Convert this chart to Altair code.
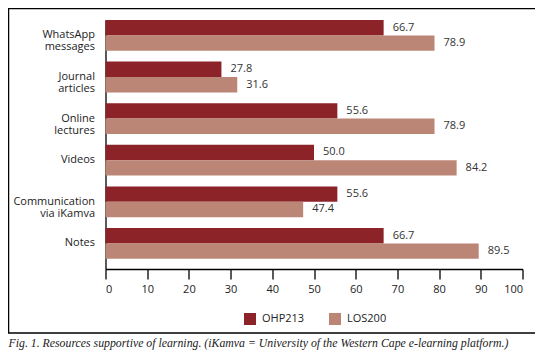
import altair as alt
import pandas as pd

categories = ["WhatsApp\nmessages", "Journal\narticles", "Online\nlectures", "Videos",
              "Communication\nvia iKamva", "Notes"]
series = ["OHP213", "LOS200"]
ohp213 = [66.7, 27.8, 55.6, 50.0, 55.6, 66.7]
los200 = [78.9, 31.6, 78.9, 84.2, 47.4, 89.5]
x_ticks = [0, 10, 20, 30, 40, 50, 60, 70, 80, 90, 100]
caption = ("Fig. 1. Resources supportive of learning. "
           "(iKamva = University of the Western Cape e-learning platform.)")
colors = ["#8b2329", "#bc8677"]

rows = []
for c, a, b in zip(categories, ohp213, los200):
    rows.append({"cat": c, "series": series[0], "value": a})
    rows.append({"cat": c, "series": series[1], "value": b})
df = pd.DataFrame(rows)

W, H = 417, 249
FONT = "Open Sans"

y_enc = alt.Y("cat:N", sort=categories, title=None,
              scale=alt.Scale(paddingInner=0.26, paddingOuter=0.123, align=0),
              axis=alt.Axis(ticks=False, domain=True, domainColor="#000", domainWidth=1.3,
                            labelPadding=11, labelFont=FONT, labelFontSize=11,
                            labelColor="#222", labelLineHeight=12,
                            labelExpr="split(datum.label, '\\n')"))
yoff = alt.YOffset("series:N", sort=series)
x_enc = alt.X("value:Q", title=None,
              scale=alt.Scale(domain=[0, 100], nice=False),
              axis=alt.Axis(values=x_ticks, grid=False, domainColor="#000", domainWidth=1.3,
                            tickColor="#000", tickWidth=1.3, tickSize=10, labelPadding=4,
                            labelFont=FONT, labelFontSize=11, labelColor="#222"))

base = alt.Chart(df)
bars = base.mark_bar().encode(
    x=x_enc, y=y_enc, yOffset=yoff,
    color=alt.Color("series:N", sort=series, title=None,
                    scale=alt.Scale(domain=series, range=colors),
                    legend=alt.Legend(orient="none", legendX=138.5, legendY=293,
                                      direction="horizontal", symbolType="square",
                                      symbolSize=144, symbolStrokeWidth=0,
                                      labelFont=FONT, labelFontSize=11, labelColor="#222",
                                      labelOffset=6, columnPadding=24)),
)
labels = base.mark_text(align="left", baseline="middle", dx=9, font=FONT,
                        fontSize=11, color="#333").encode(
    x="value:Q", y=alt.Y("cat:N", sort=categories), yOffset=yoff,
    text=alt.Text("value:Q", format=".1f"),
)
one = alt.Chart(pd.DataFrame({"k": [0]}))
frame = one.mark_rect(fill=None, stroke="#000", strokeWidth=1.5).encode(
    x=alt.value(-97), x2=alt.value(432.5), y=alt.value(-11.5), y2=alt.value(313))
cap = one.mark_text(align="left", baseline="alphabetic", font="Liberation Serif",
                    fontStyle="italic", fontSize=11.8, color="#222").encode(
    x=alt.value(-97), y=alt.value(326.5), text=alt.value(caption))

chart = alt.layer(frame, bars, labels, cap).properties(
    width=W, height=H,
    autosize=alt.AutoSizeParams(type="none"),
    padding={"left": 97.5, "top": 12, "right": 12.5, "bottom": 82},
).configure_view(stroke=None)

chart.save("out.html", embed_options={"renderer": "svg", "actions": False})
